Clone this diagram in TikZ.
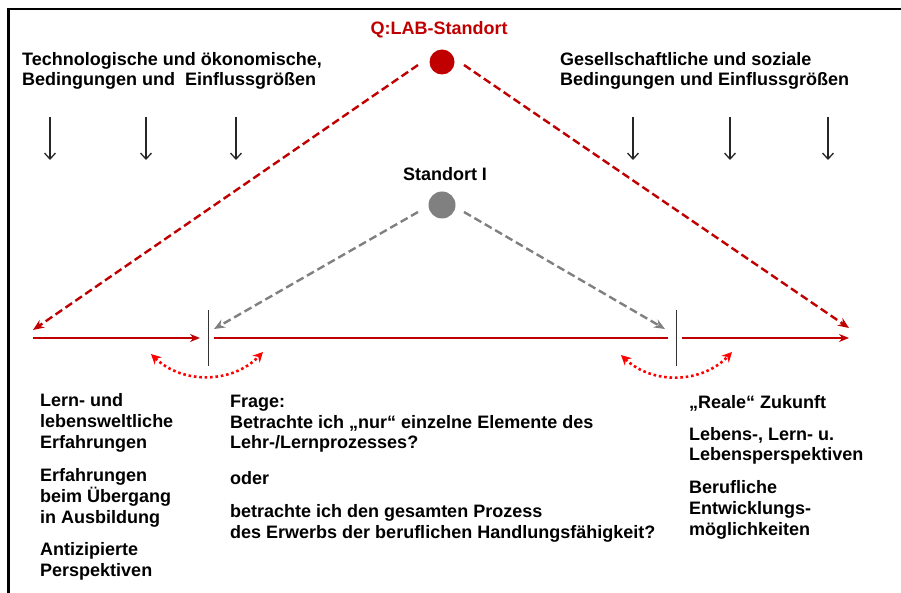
\documentclass[tikz,border=0pt]{standalone}
\usepackage{fontspec}
\setmainfont{Liberation Sans}
\usetikzlibrary{arrows.meta}
\definecolor{qred}{RGB}{192,0,0}
\definecolor{lred}{RGB}{255,0,0}
\definecolor{sgray}{RGB}{128,128,128}
\begin{document}
\begin{tikzpicture}[x=1pt,y=-1pt,
  txt/.style={anchor=base west, inner sep=0pt, font=\bfseries\fontsize{18}{21}\selectfont},
  reddash/.style={draw=qred, line width=2.4pt, dash pattern=on 8pt off 4pt, -{Stealth[length=11pt,width=9pt]}},
  graydash/.style={draw=sgray, line width=2.4pt, dash pattern=on 8pt off 4pt, -{Stealth[length=11pt,width=9pt]}},
  timeline/.style={draw=qred, line width=2.2pt},
  tick/.style={draw=black!80, line width=1pt},
  swing/.style={draw=lred, line width=2.6pt, dash pattern=on 2.6pt off 2.8pt, {Stealth[length=10pt,width=10pt]}-{Stealth[length=10pt,width=10pt]}},
  downarrow/.style={draw=black!85, line width=1.3pt, -{Straight Barb[length=6pt,width=11pt]}}
]
\useasboundingbox (0,0) rectangle (901,593);
\draw[line width=2.6pt, line join=miter] (901,9) -- (8.5,9) -- (8.5,593);

% sites
\node[circle, fill=qred, minimum size=25pt, inner sep=0pt] (qlab) at (442,62) {};
\node[circle, fill=sgray, minimum size=27pt, inner sep=0pt] (std) at (442,205) {};
\node[txt, anchor=base, text=qred] (qlabl) at (439,35) {Q:LAB-Standort};
\node[txt, anchor=base] (stdl) at (445,181) {Standort I};

% coordinates
\coordinate (qLs) at (418,65);
\coordinate (qRs) at (464,65);
\coordinate (gLs) at (418,212);
\coordinate (gRs) at (464,212);
\coordinate (tipL) at (33,330);
\coordinate (tipR) at (849,328);
\coordinate (gtipL) at (214,329);
\coordinate (gtipR) at (665,329);

\draw[reddash] (qLs) -- (tipL);
\draw[reddash] (qRs) -- (tipR);
\draw[graydash] (gLs) -- (gtipL);
\draw[graydash] (gRs) -- (gtipR);

% time line
\coordinate (h0) at (33,338);
\coordinate (h1) at (200,338);
\coordinate (h2) at (214,338);
\coordinate (h3) at (668,338);
\coordinate (h4) at (682,338);
\coordinate (h5) at (849,338);
\draw[timeline, -{Stealth[length=10pt,width=8pt]}] (h0) -- (h1);
\draw[timeline] (h2) -- (h3);
\draw[timeline, -{Stealth[length=10pt,width=8pt]}] (h4) -- (h5);

\coordinate (t1a) at (208,310); \coordinate (t1b) at (208,366);
\coordinate (t2a) at (676,310); \coordinate (t2b) at (676,366);
\draw[tick] (t1a) -- (t1b);
\draw[tick] (t2a) -- (t2b);

% swings
\coordinate (d1a) at (151,354); \coordinate (d1b) at (263,352);
\coordinate (d2a) at (621,355); \coordinate (d2b) at (732,352);
\draw[swing] (d1a) to[bend right=45] (d1b);
\draw[swing] (d2a) to[bend right=45] (d2b);

% influence arrows
\foreach \x/\n in {50/a,146/b,236/c,633/d,730/e,828/f}{
  \coordinate (u\n) at (\x,117);
  \coordinate (v\n) at (\x,160);
  \draw[downarrow] (u\n) -- (v\n);
}

% top texts
\node[txt] (tl1) at (22,66) {Technologische und ökonomische,};
\node[txt] (tl2) at (22,86) {Bedingungen und\ \ Einflussgrößen};
\node[txt] (tr1) at (560,66) {Gesellschaftliche und soziale};
\node[txt] (tr2) at (560,86) {Bedingungen und Einflussgrößen};

% left column
\node[txt] (l1) at (40,406) {Lern- und};
\node[txt] (l2) at (40,427) {lebensweltliche};
\node[txt] (l3) at (40,448) {Erfahrungen};
\node[txt] (l4) at (40,481) {Erfahrungen};
\node[txt] (l5) at (40,502) {beim Übergang};
\node[txt] (l6) at (40,523) {in Ausbildung};
\node[txt] (l7) at (40,555) {Antizipierte};
\node[txt] (l8) at (40,576) {Perspektiven};

% middle column
\node[txt] (m1) at (230,407) {Frage:};
\node[txt] (m2) at (230,428) {Betrachte ich „nur“ einzelne Elemente des};
\node[txt] (m3) at (230,448) {Lehr-/Lernprozesses?};
\node[txt] (m4) at (230,484) {oder};
\node[txt] (m5) at (230,517) {betrachte ich den gesamten Prozess};
\node[txt] (m6) at (230,538) {des Erwerbs der beruflichen Handlungsfähigkeit?};

% right column
\node[txt] (r1) at (689,408) {„Reale“ Zukunft};
\node[txt] (r2) at (689,440) {Lebens-, Lern- u.};
\node[txt] (r3) at (689,460) {Lebensperspektiven};
\node[txt] (r4) at (689,493) {Berufliche};
\node[txt] (r5) at (689,514) {Entwicklungs-};
\node[txt] (r6) at (689,535) {möglichkeiten};
\end{tikzpicture}
\end{document}
